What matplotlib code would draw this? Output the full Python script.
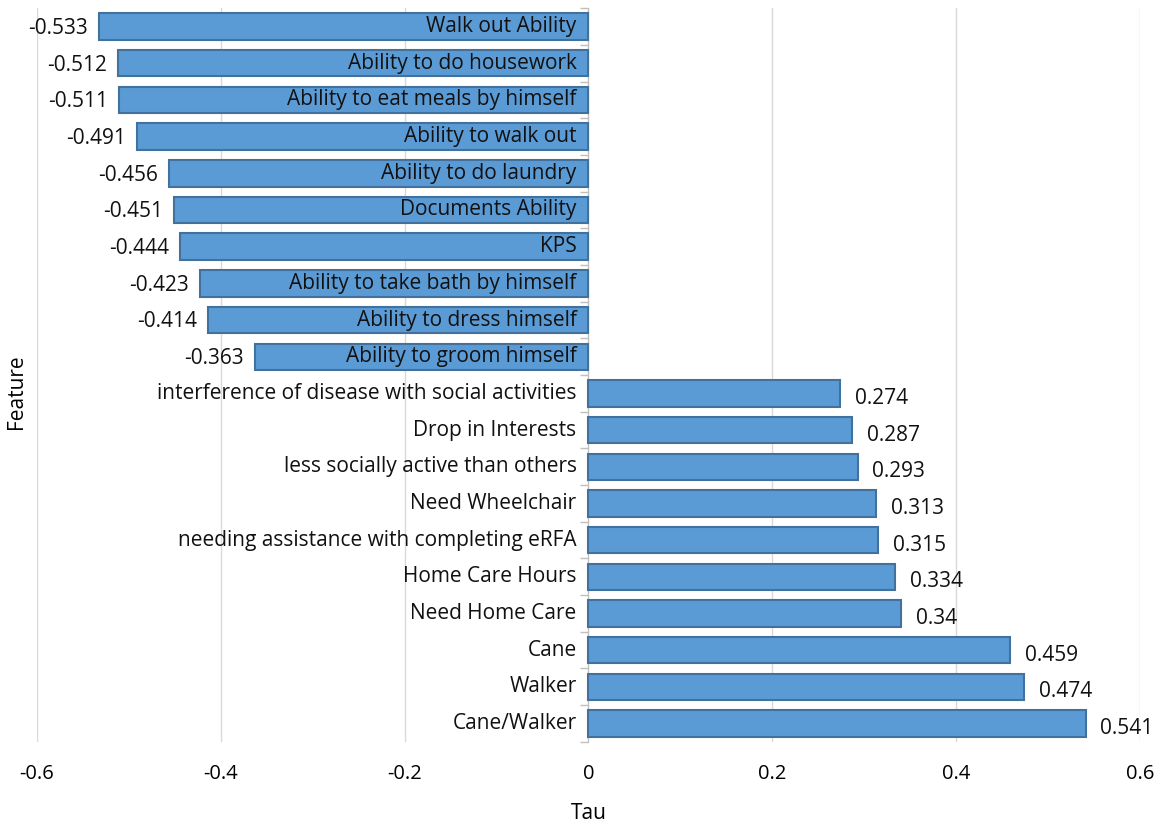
import matplotlib.pyplot as plt
import numpy as np

# Features and Kendall's tau, top to bottom
features = ['Walk out Ability', 'Ability to do housework', 'Ability to eat meals by himself',
            'Ability to walk out', 'Ability to do laundry', 'Documents Ability', 'KPS',
            'Ability to take bath by himself', 'Ability to dress himself', 'Ability to groom himself',
            'interference of disease with social activities', 'Drop in Interests',
            'less socially active than others', 'Need Wheelchair',
            'needing assistance with completing eRFA', 'Home Care Hours', 'Need Home Care',
            'Cane', 'Walker', 'Cane/Walker']
tau = [-0.533, -0.512, -0.511, -0.491, -0.456, -0.451, -0.444, -0.423, -0.414, -0.363,
       0.274, 0.287, 0.293, 0.313, 0.315, 0.334, 0.34, 0.459, 0.474, 0.541]
value_labels = ['-0.533', '-0.512', '-0.511', '-0.491', '-0.456', '-0.451', '-0.444', '-0.423',
                '-0.414', '-0.363', '0.274', '0.287', '0.293', '0.313', '0.315', '0.334', '0.34',
                '0.459', '0.474', '0.541']

plt.rcParams['font.family'] = ['Open Sans', 'DejaVu Sans']

fig = plt.figure(figsize=(11.71, 8.27), dpi=100)
ax = fig.add_axes([0.0316, 0.103, 0.9419, 0.887])

y = np.arange(len(features))
ax.barh(y, tau, height=0.72, color='#5B9BD5', edgecolor='#41719C', linewidth=1.5, zorder=3)

for yi, v, name, lab in zip(y, tau, features, value_labels):
    # category name sits just left of the zero line
    ax.text(-0.013, yi, name, ha='right', va='center', fontsize=15, color='#111111', zorder=4)
    if v < 0:
        ax.text(v - 0.012, yi + 0.05, lab, ha='right', va='center', fontsize=15, color='#111111')
    else:
        ax.text(v + 0.016, yi + 0.14, lab, ha='left', va='center', fontsize=15, color='#111111')

ax.set_xlim(-0.6, 0.6)
ax.set_ylim(len(features) - 0.5, -0.5)
ax.set_xticks([-0.6, -0.4, -0.2, 0, 0.2, 0.4, 0.6])
ax.set_xticklabels(['-0.6', '-0.4', '-0.2', '0', '0.2', '0.4', '0.6'], fontsize=14.5)
ax.tick_params(axis='x', length=0, pad=16)
ax.set_yticks(np.arange(len(features) + 1) - 0.5)
ax.set_yticklabels([])
ax.tick_params(axis='y', length=6, color='#BFBFBF', width=1)
ax.grid(axis='x', color='#D9D9D9', linewidth=1, zorder=0)
for s in ax.spines.values():
    s.set_visible(False)
ax.spines['left'].set_visible(True)
ax.spines['left'].set_position(('data', 0))
ax.spines['left'].set_color('#BFBFBF')
ax.spines['left'].set_zorder(2)

ax.set_xlabel('Tau', fontsize=15, labelpad=14)
fig.text(0.014, 0.526, 'Feature', rotation=90, ha='center', va='center', fontsize=15)

plt.savefig('out.png', dpi=100)
